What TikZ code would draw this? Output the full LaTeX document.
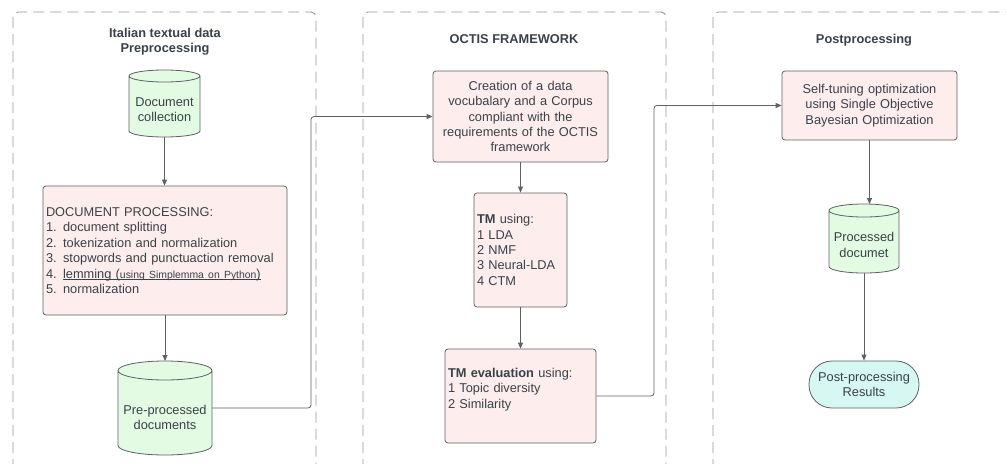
\documentclass[tikz,border=0pt]{standalone}
\usepackage{fontspec}
\setmainfont{Liberation Sans}
\usetikzlibrary{arrows.meta,calc}
\pgfdeclarelayer{background}
\pgfsetlayers{background,main}
\definecolor{ink}{HTML}{3A414A}
\definecolor{edge}{HTML}{5E6166}
\definecolor{pinkf}{HTML}{FDEDED}
\definecolor{greenf}{HTML}{E3FAE3}
\definecolor{cyanf}{HTML}{D6F7F2}
\definecolor{lane}{HTML}{959595}
% draws a vertical cylinder whose body is node #1 and whose top ellipse has y radius #2
\newcommand\drawcyl[2]{%
  \begin{pgfonlayer}{background}
  \draw[draw=edge, fill=greenf, line width=0.8pt]
    let \p1=(#1.north west), \p2=(#1.south east), \n1={(\x2-\x1)/2} in
    (\x1,{\y1+#2pt}) -- (\x1,{\y2+#2pt})
      arc[start angle=180, end angle=360, x radius=\n1, y radius=#2pt]
      -- (\x2,{\y1+#2pt})
      arc[start angle=0, end angle=180, x radius=\n1, y radius=#2pt] -- cycle
    (\x1,{\y1+#2pt})
      arc[start angle=180, end angle=360, x radius=\n1, y radius=#2pt];
  \end{pgfonlayer}}
\begin{document}
\begin{tikzpicture}[x=1pt,y=-1pt,
  font=\fontsize{12.8}{15.4}\selectfont, text=ink,
  box/.style={draw=edge, fill=pinkf, rounded corners=3pt, line width=0.8pt, inner sep=3pt},
  db/.style={rectangle, inner sep=0pt, outer sep=0pt, align=center},
  flow/.style={draw=edge, line width=0.8pt, -{Triangle[length=6pt,width=5pt]}, rounded corners=3pt},
  lanebox/.style={draw=lane, dash pattern=on 11pt off 6pt, line width=0.9pt, rounded corners=5pt},
  lanetitle/.style={font=\bfseries\fontsize{12.8}{15.4}\selectfont, align=center}]
\useasboundingbox (0,0) rectangle (1006,463);
\clip (0,0) rectangle (1006,463);

% lanes
\draw[lanebox] (13,470) -- (13,12) -- (316,12) -- (316,470);
\draw[lanebox] (363,470) -- (363,12) -- (666,12) -- (666,470);
\draw[lanebox] (713,470) -- (713,12) -- (1012,12);

\node[lanetitle] (t1) at (165,42) {Italian textual data\\Preprocessing};
\node[lanetitle] (t2) at (514,39.5) {OCTIS FRAMEWORK};
\node[lanetitle] (t3) at (864,40) {Postprocessing};

% left lane
\node[db, minimum width=71pt, minimum height=55pt] (doc) at (164.5,109.5) {Document\\collection};
\drawcyl{doc}{6}
\coordinate (doc-top) at ($(doc.north)+(0,-12)$);
\node[box, text width=238pt, minimum height=129pt, align=left] (proc) at (165,250.5)
  {DOCUMENT PROCESSING:\\
   1. document splitting\\
   2. tokenization and normalization\\
   3. stopwords and punctuaction removal\\
   4. \underline{\smash{lemming (\fontsize{10.4}{12}\selectfont using Simplemma on Python\fontsize{12.8}{15.4}\selectfont)}}\\
   5. normalization};
\node[db, minimum width=94pt, minimum height=75pt] (pre) at (165,417.5) {Pre-processed\\documents};
\drawcyl{pre}{9.5}
\coordinate (pre-top) at ($(pre.north)+(0,-19)$);
\coordinate (pre-mid) at ($(pre.east)+(0,-9.5)$);

% middle lane
\node[box, text width=169pt, minimum height=91pt, align=center] (cre) at (520.5,116.5)
  {Creation of a data\\vocubalary and a Corpus\\compliant with the\\requirements of the OCTIS\\framework};
\node[box, text width=87pt, minimum height=114pt, align=left] (tm) at (520.5,250)
  {\textbf{TM} using:\\1 LDA\\2 NMF\\3 Neural-LDA\\4 CTM};
\node[box, text width=145pt, minimum height=94pt, align=left] (ev) at (520.5,396)
  {\textbf{TM evaluation} using:\\1 Topic diversity\\2 Similarity\\\mbox{}};

% right lane
\node[box, text width=169pt, minimum height=69pt, align=center] (st) at (869.5,105.5)
  {Self-tuning optimization\\using Single Objective\\Bayesian Optimization};
\node[db, minimum width=70pt, minimum height=56pt] (proc2) at (864,245) {Processed\\documet};
\drawcyl{proc2}{6.5}
\coordinate (proc2-top) at ($(proc2.north)+(0,-13)$);
\node[draw=edge, fill=cyanf, line width=0.8pt, rounded corners=23pt, minimum width=110pt,
  minimum height=47pt, align=center, inner sep=0pt] (res) at (864,384.5) {Post-processing\\Results};

% junction coordinates
\coordinate (j1) at (311,0);
\coordinate (j2) at (654,0);

% connectors
\draw[flow] (doc.south) -- (doc.south |- proc.north);
\draw[flow] (proc.south) -- (proc.south |- pre-top);
\draw[flow] (pre-mid) -- (pre-mid -| j1) -- (j1 |- cre.west) -- (cre.west);
\draw[flow] (cre.south) -- (cre.south |- tm.north);
\draw[flow] (tm.south) -- (tm.south |- ev.north);
\draw[flow] (ev.east) -- (ev.east -| j2) -- (j2 |- st.west) -- (st.west);
\draw[flow] (st.south) -- (st.south |- proc2-top);
\draw[flow] (proc2.south) -- (proc2.south |- res.north);
\end{tikzpicture}
\end{document}
